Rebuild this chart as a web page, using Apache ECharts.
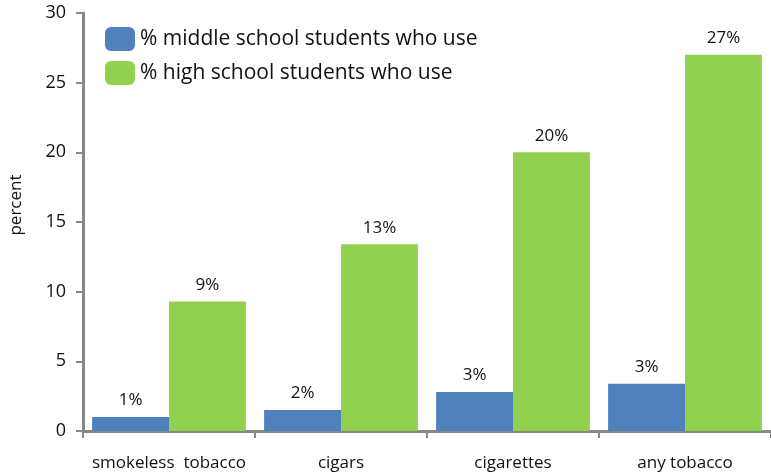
<!DOCTYPE html>
<html>
<head>
<meta charset="utf-8">
<script src="https://cdn.jsdelivr.net/npm/echarts@6/dist/echarts.min.js"></script>
<style>
  html, body { margin: 0; padding: 0; background: #fff; }
  #chart { width: 771px; height: 476px; }
</style>
</head>
<body>
<div id="chart"></div>
<script>
// Tobacco use by product, middle vs high school students
const categories = ['smokeless  tobacco', 'cigars', 'cigarettes', 'any tobacco'];
const middleSchool = [1.0, 1.5, 2.8, 3.4];
const highSchool = [9.3, 13.4, 20.0, 27.0];
const seriesNames = ['% middle school students who use', '% high school students who use'];
const yTicks = { min: 0, max: 30, step: 5 };

const FONT = '"Open Sans", Lato, sans-serif';
const AXIS_GRAY = '#888888';
const TEXT = '#111111';

const chart = echarts.init(document.getElementById('chart'), null, { renderer: 'canvas' });

function barLabel() {
  return {
    show: true,
    position: 'top',
    distance: 8,
    color: TEXT,
    fontSize: 17,
    fontFamily: FONT,
    formatter: p => Math.round(p.value) + '%'
  };
}

chart.setOption({
  animation: false,
  backgroundColor: '#fff',
  grid: { left: 79, top: 13, width: 698, height: 418, containLabel: false },
  legend: {
    orient: 'vertical',
    left: 105,
    top: 27,
    padding: 0,
    itemWidth: 30,
    itemHeight: 24,
    itemGap: 10,
    icon: 'roundRect',
    textStyle: { fontSize: 21, fontFamily: FONT, color: TEXT },
    data: seriesNames
  },
  xAxis: {
    type: 'category',
    data: categories,
    axisLine: { lineStyle: { color: AXIS_GRAY, width: 3 } },
    axisTick: { show: true, interval: 0, length: 7, lineStyle: { color: AXIS_GRAY, width: 2 } },
    axisLabel: { interval: 0, hideOverlap: false, fontSize: 17, fontFamily: FONT, color: TEXT, margin: 24 }
  },
  yAxis: {
    type: 'value',
    min: yTicks.min,
    max: yTicks.max,
    interval: yTicks.step,
    name: 'percent',
    nameLocation: 'middle',
    nameGap: 58,
    nameRotate: 90,
    nameTextStyle: { fontSize: 17, fontFamily: FONT, color: TEXT, padding: [0, 0, 0, 34] },
    axisLine: { show: true, lineStyle: { color: AXIS_GRAY, width: 3 } },
    axisTick: { show: true, length: 7, lineStyle: { color: AXIS_GRAY, width: 2 } },
    axisLabel: { fontSize: 18, fontFamily: FONT, color: TEXT, margin: 17 },
    splitLine: { show: false }
  },
  series: [
    {
      name: seriesNames[0],
      type: 'bar',
      data: middleSchool,
      barGap: '0%',
      barCategoryGap: '10.6%',
      itemStyle: { color: '#4F81BD' },
      label: barLabel()
    },
    {
      name: seriesNames[1],
      type: 'bar',
      data: highSchool,
      barGap: '0%',
      barCategoryGap: '10.6%',
      itemStyle: { color: '#92D050' },
      label: barLabel()
    }
  ]
});
</script>
</body>
</html>
